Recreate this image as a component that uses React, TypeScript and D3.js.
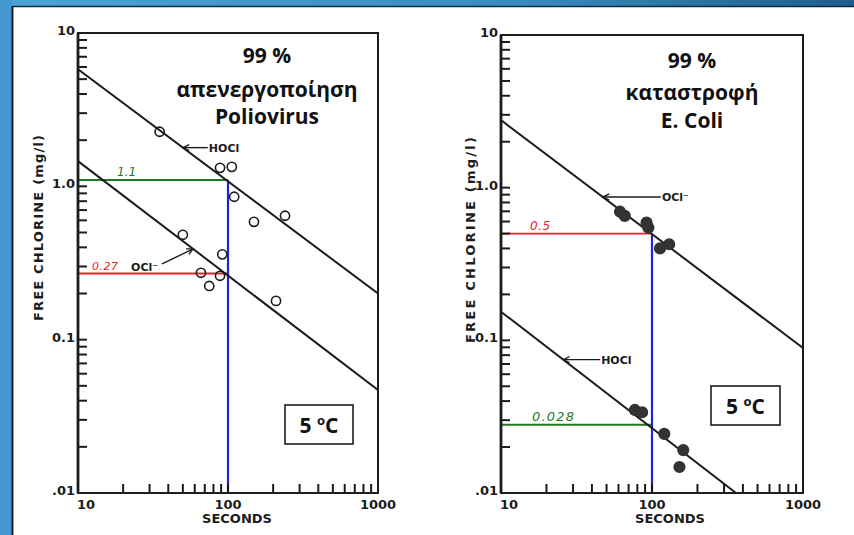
import React from "react";
import * as d3 from "d3";

type Pt = [number, number];

const W = 854;
const H = 535;

// Axis ticks (log scales: seconds 10..1000, free chlorine 0.01..10 mg/l)
const xDomain: Pt = [10, 1000];
const yDomain: Pt = [0.01, 10];
const xTickValues = [10, 100, 1000];
const xTickLabels = ["10", "100", "1000"];
const yTickValues = [0.01, 0.1, 1, 10];
const yTickLabels = [".01", "0.1", "1.0", "10"];
const xAxisTitle = "SECONDS";
const yAxisTitle = "FREE  CHLORINE  (mg/l)";

// Left panel: 99 % inactivation of Poliovirus
const polioTitle = ["99 %", "απενεργοποίηση", "Poliovirus"];
const polioPointsHOCl: Pt[] = [[35, 2.27], [88.5, 1.32], [106, 1.34], [110, 0.855], [149, 0.587], [240, 0.643]];
const polioPointsOCl: Pt[] = [[50, 0.483], [91.6, 0.36], [66, 0.273], [88.5, 0.261], [75, 0.224], [209, 0.179]];
const polioLineHOCl: Pt[] = [[10, 5.8], [1000, 0.2]];
const polioLineOCl: Pt[] = [[10, 1.46], [1000, 0.047]];
const polioHOClAt100 = 1.1;
const polioOClAt100 = 0.27;
const polioHOClLabel = "1.1";
const polioOClLabel = "0.27";

// Right panel: 99 % kill of E. coli
const ecoliTitle = ["99 %", "καταστροφή", "E. Coli"];
const ecoliPointsOCl: Pt[] = [[61.4, 0.696], [66, 0.653], [92, 0.59], [94.6, 0.547], [113, 0.4], [130, 0.426]];
const ecoliPointsHOCl: Pt[] = [[77, 0.035], [86, 0.0338], [120.6, 0.0244], [161, 0.0191], [152, 0.0148]];
const ecoliLineOCl: Pt[] = [[10, 2.77], [1000, 0.089]];
const ecoliLineHOCl: Pt[] = [[10, 0.154], [360, 0.01]];
const ecoliOClAt100 = 0.5;
const ecoliHOClAt100 = 0.028;
const ecoliOClLabel = "0.5";
const ecoliHOClLabel = "0.028";

const contactTime = 100;
const tempLabel = "5";

const INK = "#1c1c1c";
const GREEN = "#1f7a1f";
const RED = "#e8202a";
const BLUE = "#2323d0";
const TICK_FONT = "'DejaVu Sans', sans-serif";
const TITLE_FONT = "'Open Sans', 'Noto Sans', sans-serif";

interface Frame { left: number; right: number; top: number; bottom: number; }
interface Ref { value: number; label: string; color: string; labelX: number; fontSize: number; spacing: number; }
interface Arrow { line: number; atX: number; tail: Pt; text: string; anchor: "start" | "end"; textOff: Pt; }

interface PanelProps {
  id: string;
  frame: Frame;
  title: string[];
  titleX: number;
  titleY: number[];
  titleSize: number;
  points: Pt[];
  filled: boolean;
  lines: Pt[][];
  refs: Ref[];
  arrows: Arrow[];
  box: { x: number; y: number; w: number; h: number };
  yTitle: { x: number; y: number; len: number };
  xTitleX: number;
}

function Panel(p: PanelProps) {
  const { left, right, top, bottom } = p.frame;
  const x = d3.scaleLog().domain(xDomain).range([left, right]);
  const y = d3.scaleLog().domain(yDomain).range([bottom, top]);
  const line = d3.line<Pt>().x((d) => x(d[0])).y((d) => y(d[1]));
  const yTicks = y.ticks();
  const xTicks = x.ticks();
  const TL = 9;

  const onLine = (pts: Pt[], xv: number): Pt => {
    const [a, b] = pts;
    const t = (Math.log10(xv) - Math.log10(a[0])) / (Math.log10(b[0]) - Math.log10(a[0]));
    const ly = Math.log10(a[1]) + t * (Math.log10(b[1]) - Math.log10(a[1]));
    return [x(xv), y(Math.pow(10, ly))];
  };

  const maxRef = d3.max(p.refs, (r) => r.value) as number;

  return (
    <g>
      <defs>
        <clipPath id={`clip-${p.id}`}>
          <rect x={left} y={top} width={right - left} height={bottom - top} />
        </clipPath>
      </defs>

      {/* reference lines */}
      {p.refs.map((r, i) => (
        <g key={`ref${i}`}>
          <line x1={left} x2={x(contactTime)} y1={y(r.value)} y2={y(r.value)} stroke={r.color} strokeWidth={1.8} />
          <text x={r.labelX} y={y(r.value) - 4} fill={r.color} fontFamily={TICK_FONT} fontStyle="italic"
            fontSize={r.fontSize} letterSpacing={r.spacing}>{r.label}</text>
        </g>
      ))}
      <line x1={x(contactTime)} x2={x(contactTime)} y1={y(maxRef)} y2={bottom} stroke={BLUE} strokeWidth={2.2} />

      {/* regression lines */}
      <g clipPath={`url(#clip-${p.id})`}>
        {p.lines.map((l, i) => (
          <path key={`l${i}`} d={line(l) as string} fill="none" stroke={INK} strokeWidth={2} />
        ))}
      </g>

      {/* data points */}
      {p.points.map((d, i) => (
        <circle key={`p${i}`} cx={x(d[0])} cy={y(d[1])} r={p.filled ? 5.3 : 4.6}
          fill={p.filled ? "#333" : "none"} stroke={p.filled ? "#333" : INK} strokeWidth={1.6} />
      ))}

      {/* annotation arrows */}
      {p.arrows.map((a, i) => {
        const tip = onLine(p.lines[a.line], a.atX);
        const tail: Pt = [tip[0] + a.tail[0], tip[1] + a.tail[1]];
        const ang = Math.atan2(tail[1] - tip[1], tail[0] - tip[0]);
        const hl = 7;
        const h1: Pt = [tip[0] + hl * Math.cos(ang + 0.45), tip[1] + hl * Math.sin(ang + 0.45)];
        const h2: Pt = [tip[0] + hl * Math.cos(ang - 0.45), tip[1] + hl * Math.sin(ang - 0.45)];
        return (
          <g key={`a${i}`}>
            <line x1={tip[0]} y1={tip[1]} x2={tail[0]} y2={tail[1]} stroke={INK} strokeWidth={1.4} />
            <path d={`M${h1[0]},${h1[1]}L${tip[0]},${tip[1]}L${h2[0]},${h2[1]}`} fill="none" stroke={INK} strokeWidth={1.4} />
            <text x={tail[0] + a.textOff[0]} y={tail[1] + a.textOff[1]} textAnchor={a.anchor}
              fontFamily={TICK_FONT} fontWeight="bold" fontSize={11} fill={INK}>{a.text}</text>
          </g>
        );
      })}

      {/* frame */}
      <rect x={left} y={top} width={right - left} height={bottom - top} fill="none" stroke={INK} strokeWidth={2} />
      <line x1={left} x2={left} y1={top} y2={bottom} stroke={INK} strokeWidth={2.8} />

      {/* minor / major ticks */}
      {yTicks.map((t, i) => (
        <line key={`yt${i}`} x1={left} x2={left + TL} y1={y(t)} y2={y(t)} stroke={INK} strokeWidth={2} />
      ))}
      {xTicks.map((t, i) => (
        <line key={`xt${i}`} x1={x(t)} x2={x(t)} y1={bottom} y2={bottom - TL} stroke={INK} strokeWidth={2} />
      ))}

      {/* tick labels */}
      {yTickValues.map((t, i) => (
        <text key={`yl${i}`} x={left - 3} y={y(t) + 2} textAnchor="end" fontFamily={TICK_FONT}
          fontWeight="bold" fontSize={13} fill={INK}>{yTickLabels[i]}</text>
      ))}
      {xTickValues.map((t, i) => (
        <text key={`xl${i}`} x={i === 0 ? x(t) - 1 : x(t)} y={bottom + 16} textAnchor={i === 0 ? "start" : "middle"}
          fontFamily={TICK_FONT} fontWeight="bold" fontSize={13} fill={INK}>{xTickLabels[i]}</text>
      ))}
      <text x={p.xTitleX} y={bottom + 30} textAnchor="middle" fontFamily={TICK_FONT} fontWeight="bold"
        fontSize={13} fill={INK}>{xAxisTitle}</text>
      <text transform={`translate(${p.yTitle.x},${p.yTitle.y}) rotate(-90)`} textAnchor="middle"
        fontFamily={TICK_FONT} fontWeight="bold" fontSize={13} fill={INK} dy={4.5}
        textLength={p.yTitle.len} lengthAdjust="spacing">{yAxisTitle}</text>

      {/* title */}
      {p.title.map((t, i) => (
        <text key={`t${i}`} x={p.titleX} y={p.titleY[i]} textAnchor="middle" fontFamily={TITLE_FONT}
          fontWeight={700} fontSize={p.titleSize} fill="#111">{t}</text>
      ))}

      {/* temperature box */}
      <rect x={p.box.x} y={p.box.y} width={p.box.w} height={p.box.h} fill="#fff" stroke={INK} strokeWidth={1.6} />
      <text x={p.box.x + p.box.w / 2} y={p.box.y + p.box.h / 2 + 8} textAnchor="middle" fontFamily={TITLE_FONT}
        fontWeight={700} fontSize={21} fill="#111">
        {tempLabel + " "}
        <tspan fontSize={13} dy={-8}>o</tspan>
        <tspan dy={8}>C</tspan>
      </text>
    </g>
  );
}

export default function App() {
  const polio: PanelProps = {
    id: "polio",
    frame: { left: 78, right: 378, top: 33, bottom: 493 },
    title: polioTitle,
    titleX: 267,
    titleY: [63, 97, 124],
    titleSize: 21,
    points: [...polioPointsHOCl, ...polioPointsOCl],
    filled: false,
    lines: [polioLineHOCl, polioLineOCl],
    refs: [
      { value: polioHOClAt100, label: polioHOClLabel, color: GREEN, labelX: 117, fontSize: 12, spacing: 0 },
      { value: polioOClAt100, label: polioOClLabel, color: RED, labelX: 92, fontSize: 11, spacing: 0.5 },
    ],
    arrows: [
      { line: 0, atX: 50, tail: [25, 0], text: "HOCl", anchor: "start", textOff: [1, 4] },
      { line: 1, atX: 58.5, tail: [-31, 15], text: "OCl⁻", anchor: "end", textOff: [-4, 7] },
    ],
    box: { x: 285, y: 405, w: 68, h: 39 },
    yTitle: { x: 38, y: 228, len: 186 },
    xTitleX: 237,
  };

  const ecoli: PanelProps = {
    id: "ecoli",
    frame: { left: 501, right: 803, top: 35, bottom: 493 },
    title: ecoliTitle,
    titleX: 692,
    titleY: [68, 100, 128],
    titleSize: 21,
    points: [...ecoliPointsOCl, ...ecoliPointsHOCl],
    filled: true,
    lines: [ecoliLineOCl, ecoliLineHOCl],
    refs: [
      { value: ecoliOClAt100, label: ecoliOClLabel, color: RED, labelX: 530, fontSize: 12, spacing: 0.5 },
      { value: ecoliHOClAt100, label: ecoliHOClLabel, color: GREEN, labelX: 532, fontSize: 13, spacing: 1.2 },
    ],
    arrows: [
      { line: 0, atX: 47.3, tail: [58, 0], text: "OCl⁻", anchor: "start", textOff: [1, 4] },
      { line: 1, atX: 25.8, tail: [37, 0], text: "HOCl", anchor: "start", textOff: [1, 4] },
    ],
    box: { x: 711, y: 386, w: 69, h: 39 },
    yTitle: { x: 470, y: 240, len: 206 },
    xTitleX: 670,
  };

  return (
    <svg width={W} height={H} viewBox={`0 0 ${W} ${H}`}
      style={{ position: "absolute", left: 0, top: 0, display: "block" }}>
      <defs>
        <linearGradient id="topbar" x1="0" x2="1" y1="0" y2="0">
          <stop offset="0" stopColor="#4aa3d8" />
          <stop offset="0.6" stopColor="#3a8cc0" />
          <stop offset="1" stopColor="#1d5f8e" />
        </linearGradient>
      </defs>
      <rect x={0} y={0} width={W} height={H} fill="#ffffff" />
      <rect x={0} y={0} width={W} height={6} fill="url(#topbar)" />
      <rect x={0} y={0} width={12} height={H} fill="#4499cf" />
      <line x1={12} x2={W} y1={6.5} y2={6.5} stroke="#0f2c40" strokeWidth={1.6} />
      <line x1={12.5} x2={12.5} y1={6} y2={H} stroke="#111" strokeWidth={1.8} />
      <Panel {...polio} />
      <Panel {...ecoli} />
    </svg>
  );
}
